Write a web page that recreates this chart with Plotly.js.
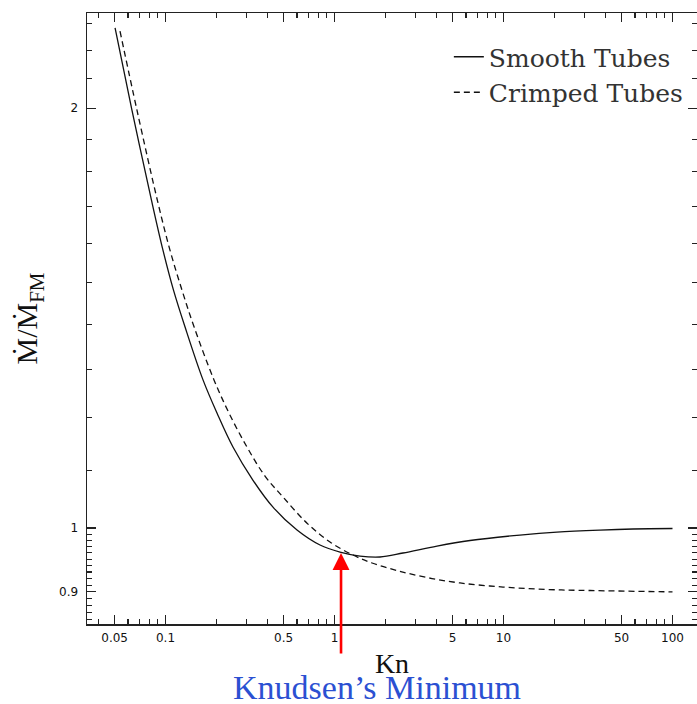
<!DOCTYPE html>
<html>
<head>
<meta charset="utf-8">
<script src="https://cdn.plot.ly/plotly-3.0.1.min.js"></script>
<style>html,body{margin:0;padding:0;background:#fff;}</style>
</head>
<body>
<div id="chart" style="width:697px;height:704px;"></div>
<script>
// Smooth tubes (Kn, Mdot/Mdot_FM)
var smoothKn = [0.0503, 0.0633, 0.0826, 0.0966, 0.1115, 0.1304, 0.1667, 0.2017, 0.2507, 0.3295, 0.4326, 0.600, 0.821, 1.078, 1.415, 1.858, 2.543, 4.04, 6.34, 12.5, 20.7, 37.2, 58.4, 100];
var smoothM  = [2.283, 1.993, 1.718, 1.582, 1.481, 1.394, 1.277, 1.209, 1.143, 1.082, 1.035, 0.9967, 0.9723, 0.9611, 0.9548, 0.9533, 0.9596, 0.9707, 0.9796, 0.9885, 0.9934, 0.9967, 0.9984, 0.9992];
// Crimped tubes
var crimpedKn = [0.0538, 0.0678, 0.0903, 0.1063, 0.1252, 0.1475, 0.1936, 0.2375, 0.3035, 0.3879, 0.4958, 0.688, 0.9405, 1.286, 1.667, 2.343, 3.526, 5.53, 9.93, 18.1, 32.5, 100];
var crimpedM  = [2.271, 1.993, 1.710, 1.582, 1.481, 1.394, 1.277, 1.209, 1.143, 1.0896, 1.0525, 1.008, 0.9772, 0.9564, 0.9439, 0.9322, 0.9215, 0.9133, 0.9072, 0.9035, 0.9020, 0.900];

var xTickVals = [0.05, 0.1, 0.5, 1, 5, 10, 50, 100];
var xTickText = ['0.05', '0.1', '0.5', '1', '5', '10', '50', '100'];
var xMinorVals = [0.04, 0.06, 0.07, 0.08, 0.09, 0.2, 0.3, 0.4, 0.6, 0.7, 0.8, 0.9, 2, 3, 4, 6, 7, 8, 9, 20, 30, 40, 60, 70, 80, 90];
var yTickVals = [0.9, 1, 2];
var yTickText = ['0.9', '1', '2'];
var yMinorVals = [0.86, 0.87, 0.88, 0.89, 0.91, 0.92, 0.93, 0.94, 0.95, 0.96, 0.97, 0.98, 0.99,
                  1.1, 1.2, 1.3, 1.4, 1.5, 1.6, 1.7, 1.8, 1.9, 2.1, 2.2, 2.3];

var minimumKn = 1.093, minimumM = 0.9596;

var traces = [
  {x: smoothKn, y: smoothM, name: 'Smooth Tubes', type: 'scatter', mode: 'lines',
   line: {color: '#111', width: 1.3, shape: 'spline', smoothing: 1}},
  {x: crimpedKn, y: crimpedM, name: 'Crimped Tubes', type: 'scatter', mode: 'lines',
   line: {color: '#111', width: 1.3, dash: '6px,4px', shape: 'spline', smoothing: 1}}
];

var tickFont = {family: 'DejaVu Sans', size: 12, color: '#111'};
var layout = {
  width: 697, height: 704,
  margin: {l: 87, r: 0, t: 13, b: 80},
  paper_bgcolor: '#fff', plot_bgcolor: '#fff',
  showlegend: true,
  legend: {x: 0.985, xanchor: 'right', y: 0.9656, yanchor: 'top',
           font: {family: 'DejaVu Serif', size: 25, color: '#333'},
           bgcolor: 'rgba(0,0,0,0)', tracegroupgap: 0, itemwidth: 30},
  xaxis: {
    type: 'log', range: [-1.4645, 2.145],
    tickmode: 'array', tickvals: xTickVals, ticktext: xTickText,
    ticks: 'inside', ticklen: 9, tickwidth: 1.2, tickcolor: '#222',
    minor: {tickvals: xMinorVals, ticks: 'inside', ticklen: 5, tickwidth: 1.1, tickcolor: '#222', showgrid: false},
    showline: true, linecolor: '#222', linewidth: 1.5, mirror: 'ticks',
    showgrid: false, zeroline: false, tickfont: tickFont, ticklabelstandoff: 2,
    title: {text: 'Kn', font: {family: 'Liberation Serif', size: 28, color: '#111'}, standoff: 9}
  },
  yaxis: {
    type: 'log', range: [-0.0688, 0.3692],
    tickmode: 'array', tickvals: yTickVals, ticktext: yTickText,
    ticks: 'inside', ticklen: 9, tickwidth: 1.2, tickcolor: '#222',
    minor: {tickvals: yMinorVals, ticks: 'inside', ticklen: 5, tickwidth: 1.1, tickcolor: '#222', showgrid: false},
    showline: true, linecolor: '#222', linewidth: 1.5, mirror: 'ticks',
    showgrid: false, zeroline: false, tickfont: tickFont, ticklabelstandoff: 5,
    title: {text: 'Ṁ/Ṁ<sub>FM</sub>', font: {family: 'Liberation Serif', size: 30, color: '#111'}, standoff: 12}
  },
  annotations: [
    {x: Math.log10(minimumKn), y: Math.log10(minimumM), xref: 'x', yref: 'y',
     text: '', showarrow: true, ax: 0, ay: 102, axref: 'pixel', ayref: 'pixel',
     arrowhead: 2, arrowsize: 1.3, arrowwidth: 2.6, arrowcolor: '#ff0000', standoff: 0},
    {x: 0.4746, y: -0.104, xref: 'paper', yref: 'paper', xanchor: 'center', yanchor: 'middle',
     text: 'Knudsen’s Minimum', showarrow: false,
     font: {family: 'Liberation Serif', size: 34, color: '#2b50d2'}}
  ]
};

Plotly.newPlot('chart', traces, layout, {displayModeBar: false, staticPlot: true});
</script>
</body>
</html>
